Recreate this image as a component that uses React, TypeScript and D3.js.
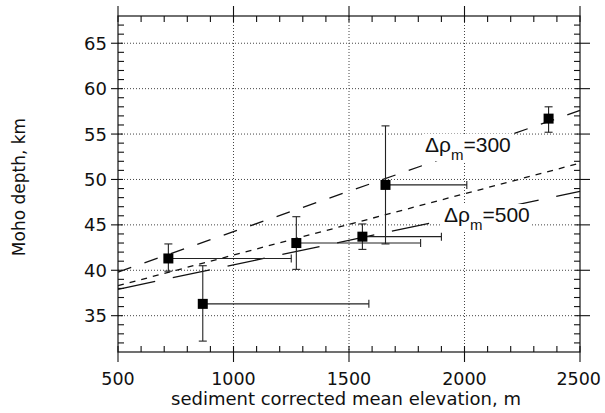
import { useEffect } from 'react'
import * as d3 from 'd3'

// elevation (m), Moho depth (km), error bounds
const elev   = [718, 867, 1272, 1558, 1658, 2364]
const depth  = [41.3, 36.3, 43.0, 43.7, 49.4, 56.7]
const depLo  = [39.9, 32.2, 40.1, 42.3, 42.9, 55.2]
const depHi  = [42.9, 40.5, 45.9, 45.1, 55.9, 58.0]
const elevHi = [1250, 1586, 1810, 1900, 2010, 2364]

// model lines: depth at 500 m and at 2500 m
const lineX    = [500, 2500]
const line300  = [39.8, 57.6]
const lineMid  = [38.3, 51.8]
const line500  = [37.9, 48.7]

const xTicks = [500, 1000, 1500, 2000, 2500]
const yTicks = [35, 40, 45, 50, 55, 60, 65]

const W = 605, H = 413
const FONT = 'DejaVu Sans, sans-serif'
const LFONT = 'Liberation Sans, Arial, sans-serif'

export default function App() {
  useEffect(() => { document.body.style.margin = '0' }, [])

  const x = d3.scaleLinear().domain([500, 2500]).range([118, 580])
  const y = d3.scaleLinear().domain([31, 68]).range([352, 16])
  const [x0, x1] = x.range()
  const [yb, yt] = y.range()

  const xMinor = d3.range(600, 2500, 100).filter(v => v % 500 !== 0)
  const yMinor = d3.range(32, 68, 1).filter(v => v % 5 !== 0)

  const line = d3.line<[number, number]>().x(d => x(d[0])).y(d => y(d[1]))
  const mk = (vals: number[]) => line(lineX.map((v, i) => [v, vals[i]] as [number, number])) || ''

  const pts = elev.map((e, i) => ({ e, d: depth[i], lo: depLo[i], hi: depHi[i], eh: elevHi[i] }))

  const label = (tx: number, ty: number, val: string) => (
    <g>
      <rect x={tx - 3} y={ty - 18} width={90} height={27} fill="#fff" />
      <text x={tx} y={ty} fontFamily={LFONT} fontSize={21} fill="#111">
        Δρ<tspan fontSize={15} dy={8}>m</tspan><tspan dy={-8}>={val}</tspan>
      </text>
    </g>
  )

  return (
    <svg width={W} height={H} style={{ display: 'block', background: '#fff' }}>
      {/* grid */}
      {xTicks.slice(1, -1).map(t => (
        <line key={'gx' + t} x1={x(t)} x2={x(t)} y1={yt} y2={yb} stroke="#444" strokeWidth={1} strokeDasharray="1,2" />
      ))}
      {yTicks.map(t => (
        <line key={'gy' + t} x1={x0} x2={x1} y1={y(t)} y2={y(t)} stroke="#444" strokeWidth={1} strokeDasharray="1,2" />
      ))}

      {/* model lines */}
      <path d={mk(line300)} fill="none" stroke="#111" strokeWidth={1.3} strokeDasharray="14,14" />
      <path d={mk(lineMid)} fill="none" stroke="#111" strokeWidth={1.3} strokeDasharray="6,6" />
      <path d={mk(line500)} fill="none" stroke="#111" strokeWidth={1.3} strokeDasharray="38,18" />

      {label(425, 152, '300')}
      {label(444, 222, '500')}

      {/* error bars + points */}
      {pts.map((p, i) => (
        <g key={i} stroke="#222" strokeWidth={1.1}>
          <line x1={x(p.e)} x2={x(p.e)} y1={y(p.lo)} y2={y(p.hi)} />
          <line x1={x(p.e) - 4} x2={x(p.e) + 4} y1={y(p.lo)} y2={y(p.lo)} />
          <line x1={x(p.e) - 4} x2={x(p.e) + 4} y1={y(p.hi)} y2={y(p.hi)} />
          {p.eh > p.e && <>
            <line x1={x(p.e)} x2={x(p.eh)} y1={y(p.d)} y2={y(p.d)} />
            <line x1={x(p.eh)} x2={x(p.eh)} y1={y(p.d) - 4} y2={y(p.d) + 4} />
          </>}
          <rect x={x(p.e) - 5} y={y(p.d) - 5} width={10} height={10} fill="#000" stroke="none" />
        </g>
      ))}

      {/* frame */}
      <rect x={x0} y={yt} width={x1 - x0} height={yb - yt} fill="none" stroke="#111" strokeWidth={1.2} />

      {/* ticks */}
      <g stroke="#111" strokeWidth={1.1}>
        {xMinor.map(t => (
          <g key={'xm' + t}>
            <line x1={x(t)} x2={x(t)} y1={yb} y2={yb - 6} />
            <line x1={x(t)} x2={x(t)} y1={yt} y2={yt + 6} />
          </g>
        ))}
        {xTicks.map(t => (
          <g key={'xM' + t}>
            <line x1={x(t)} x2={x(t)} y1={yb - 6} y2={yb + 10} />
            <line x1={x(t)} x2={x(t)} y1={yt + 6} y2={yt - 10} />
          </g>
        ))}
        {yMinor.map(t => (
          <g key={'ym' + t}>
            <line x1={x0} x2={x0 + 6} y1={y(t)} y2={y(t)} />
            <line x1={x1} x2={x1 - 6} y1={y(t)} y2={y(t)} />
          </g>
        ))}
        {yTicks.map(t => (
          <g key={'yM' + t}>
            <line x1={x0 - 7} x2={x0 + 5} y1={y(t)} y2={y(t)} />
            <line x1={x1 + 10} x2={x1 - 5} y1={y(t)} y2={y(t)} />
          </g>
        ))}
      </g>

      {/* tick labels */}
      {xTicks.map((t, i) => {
        const last = i === xTicks.length - 1
        return (
          <text key={'xl' + t} x={last ? W - 4 : x(t)} y={385} textAnchor={last ? 'end' : 'middle'}
            fontFamily={FONT} fontSize={17.5} fill="#111">{t}</text>
        )
      })}
      {yTicks.map(t => (
        <text key={'yl' + t} x={107} y={y(t) + 6.5} textAnchor="end" fontFamily={FONT} fontSize={18} fill="#111">{t}</text>
      ))}

      {/* axis titles */}
      <text x={346} y={405} textAnchor="middle" fontFamily={FONT} fontSize={18} fill="#111">
        sediment corrected mean elevation, m
      </text>
      <text transform="translate(25,187) rotate(-90)" textAnchor="middle" fontFamily={FONT} fontSize={17} fill="#111">
        Moho depth, km
      </text>
    </svg>
  )
}
